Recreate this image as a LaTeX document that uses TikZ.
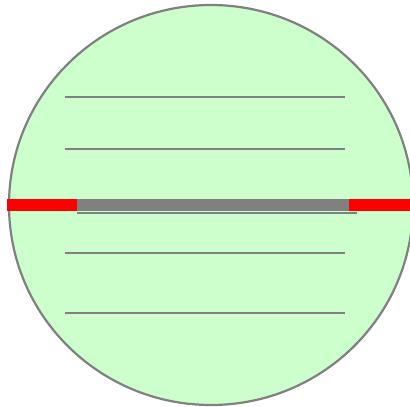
\documentclass[tikz,border=0pt]{standalone}
\definecolor{lightgreen}{HTML}{CCFFCC}
\definecolor{strokegray}{HTML}{808080}
\definecolor{barred}{HTML}{FF0000}
\tikzset{
  outline/.style={draw=strokegray, line width=2.2bp, fill=lightgreen},
  rule/.style={draw=strokegray, line width=2.6bp},
  thickbar/.style={fill=strokegray, draw=none},
  redbar/.style={fill=barred, draw=none}
}
\begin{document}
\begin{tikzpicture}[x=1bp, y=-1bp]
  \useasboundingbox (0,0) rectangle (410,407);
  \begin{scope}
    \clip (0,0) rectangle (410,407);
    \draw[outline] (211,205) ellipse [x radius=202, y radius=200];
    \draw[rule] (65,97) -- (345,97);
    \draw[rule] (65,149) -- (345,149);
    \draw[rule] (65,253) -- (345,253);
    \draw[rule] (65,313) -- (345,313);
    \fill[redbar] (7,199) rectangle (77,211);
    \fill[redbar] (349,199) rectangle (410,211);
    \fill[thickbar] (77,199) rectangle (349,211);
    \draw[rule] (77,213) -- (357,213);
  \end{scope}
\end{tikzpicture}
\end{document}
